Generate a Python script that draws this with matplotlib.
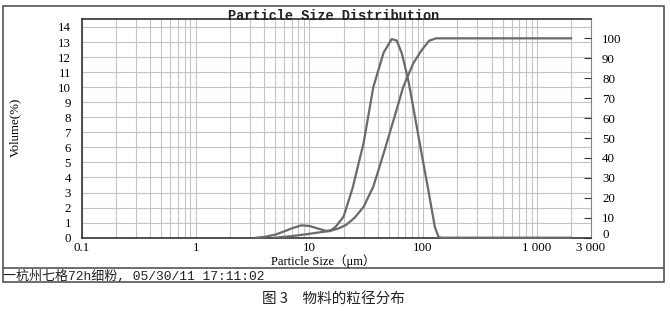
import matplotlib
matplotlib.use("Agg")
import matplotlib.pyplot as plt
from matplotlib.ticker import LogLocator, FixedLocator, NullFormatter, FixedFormatter
from matplotlib.patches import Rectangle
from matplotlib.lines import Line2D
from matplotlib.transforms import ScaledTranslation

# Frequency (volume %) curve
freq_size = [3.4, 4.0, 5.0, 6.0, 7.0, 8.5, 10.0, 12.0, 14.0, 15.5, 17.0, 20.0, 24.0, 30.0,
             36.5, 45.0, 53.0, 58.6, 65.0, 74.0, 85.0, 97.0, 111.0, 127.0, 137.0, 145.0, 2000.0]
freq_vol = [0.0, 0.05, 0.2, 0.42, 0.62, 0.82, 0.78, 0.6, 0.45, 0.5, 0.72, 1.4, 3.3, 6.3,
            10.0, 12.3, 13.2, 13.1, 12.25, 10.5, 8.0, 5.6, 3.2, 0.7, 0.05, 0.0, 0.0]

# Cumulative (%) curve
cum_size = [5.0, 7.0, 9.0, 11.0, 13.0, 15.0, 18.0, 21.0, 25.0, 30.0, 36.5, 45.0, 55.0,
            67.0, 82.0, 97.0, 113.0, 130.0, 2000.0]
cum_pct = [0.0, 0.8, 1.6, 2.3, 2.9, 3.3, 4.6, 6.4, 10.0, 15.5, 25.6, 42.3, 59.0,
           75.7, 87.5, 94.0, 98.8, 100.0, 100.0]

x_ticks = [0.1, 1, 10, 100, 1000, 3000]
x_ticklabels = ["0.1", "1", "10", "100", "1 000", "3 000"]
left_ticks = list(range(0, 15))
right_ticks = list(range(0, 101, 10))

W, H = 670, 311
fig = plt.figure(figsize=(W / 100, H / 100), dpi=100)

def fx(px):
    return px / W

def fy(py):
    return 1 - py / H

ax = fig.add_axes([fx(82), fy(237.7), fx(591) - fx(82), fy(19) - fy(237.7)])
ax.set_xscale("log")
ax.set_xlim(0.1, 3000)
ax.set_ylim(0, 14.53)

serif = "Liberation Serif"
line_col = "#6a6a6a"
grid_col = "#c4c4c4"
fs = 9.3

ax.xaxis.set_major_locator(FixedLocator(x_ticks))
ax.xaxis.set_major_formatter(FixedFormatter(x_ticklabels))
ax.xaxis.set_minor_locator(LogLocator(base=10, subs=range(2, 10), numticks=20))
ax.xaxis.set_minor_formatter(NullFormatter())
ax.set_yticks(left_ticks)
ax.tick_params(axis="both", which="both", length=0, labelsize=fs, pad=8)
ax.tick_params(axis="x", pad=3)
for lab in ax.get_xticklabels() + ax.get_yticklabels():
    lab.set_fontfamily(serif)

ax.grid(True, which="both", axis="x", color=grid_col, linewidth=0.8)
ax.grid(True, which="major", axis="y", color=grid_col, linewidth=0.8)
ax.set_axisbelow(True)

for s in ["left", "top", "bottom"]:
    ax.spines[s].set_color("#333333")
    ax.spines[s].set_linewidth(1.2)
ax.spines["right"].set_color("#888888")
ax.spines["right"].set_linewidth(0.8)

ax.plot(freq_size, freq_vol, color=line_col, linewidth=1.6, clip_on=False, zorder=3)

ax2 = ax.twinx()
ax2.set_ylim(0, 109.7)
ax2.set_yticks(right_ticks)
ax2.tick_params(axis="y", direction="in", length=5, width=0.8, color="#333333",
                labelsize=fs, pad=8)
for lab in ax2.get_yticklabels():
    lab.set_fontfamily(serif)
# lift the right-hand "0" a little, as in the reference
zero_lab = ax2.get_yticklabels()[0]
zero_lab.set_transform(zero_lab.get_transform() + ScaledTranslation(0, 4 / 100, fig.dpi_scale_trans))
ax2.plot(cum_size, cum_pct, color=line_col, linewidth=1.6, zorder=3)
for s in ["left", "top", "bottom", "right"]:
    ax2.spines[s].set_visible(False)

fig.text(fx(15), fy(127), "Volume(%)", rotation=90, ha="center", va="center",
         fontfamily=serif, fontsize=fs)

fig.text(fx(334), fy(19.5), "Particle Size Distribution", ha="center", va="baseline",
         fontfamily="Liberation Mono", fontweight="bold", fontsize=9.8, color="#222222")

fig.text(fx(323), fy(261.5), "Particle Size（μm）", ha="center", va="center",
         fontfamily=[serif, "Noto Sans CJK SC"], fontsize=9.0)

# Outer frame and footer
fig.add_artist(Rectangle((fx(3), fy(282)), fx(664) - fx(3), fy(6) - fy(282),
                         transform=fig.transFigure, fill=False,
                         edgecolor="#555555", linewidth=1.2))
fig.add_artist(Line2D([fx(3), fx(664)], [fy(268), fy(268)], transform=fig.transFigure,
                      color="#555555", linewidth=1.2))
fig.text(fx(3), fy(276), "一杭州七格72h细粉, 05/30/11 17:11:02", ha="left", va="center",
         fontfamily=["Liberation Mono", "Noto Sans CJK SC"], fontsize=9.4, color="#222222")

fig.text(fx(333), fy(299), "图 3　物料的粒径分布", ha="center", va="center",
         fontfamily=["Noto Sans CJK SC", "DejaVu Sans"], fontsize=10.5, color="#222222")

fig.savefig("out.png", dpi=100)
